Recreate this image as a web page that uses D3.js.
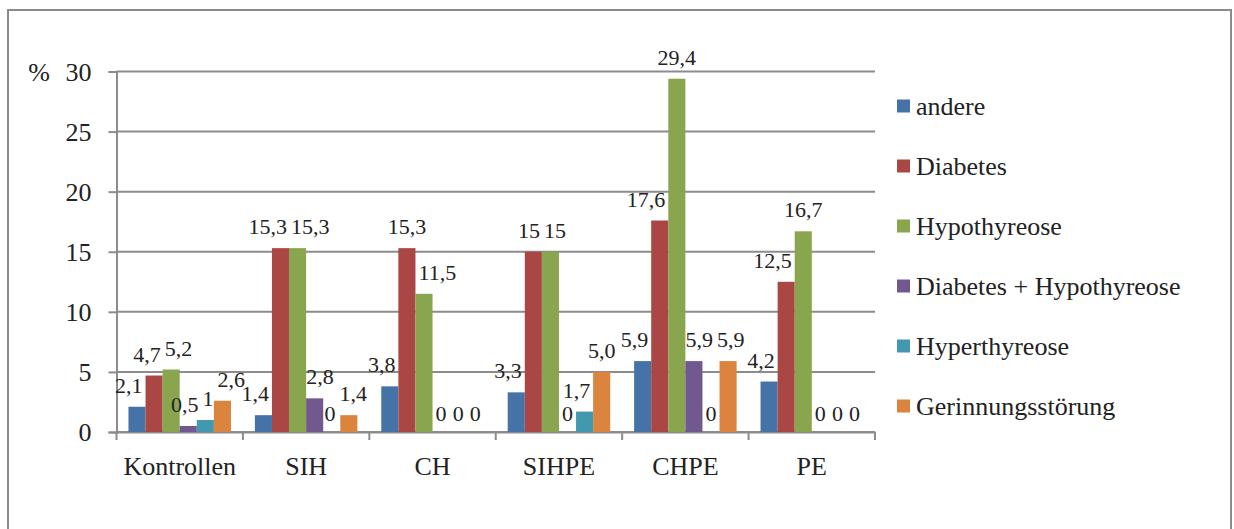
<!DOCTYPE html>
<html>
<head>
<meta charset="utf-8">
<script src="https://cdn.jsdelivr.net/npm/d3@7"></script>
<style>
  html, body { margin: 0; padding: 0; background: #fff; }
  svg { display: block; }
  text { font-family: "Liberation Serif", "Times New Roman", serif; fill: #222; }
</style>
</head>
<body>
<svg id="chart" width="1234" height="529"></svg>
<script>
// Groups along the x axis
const categories = ["Kontrollen", "SIH", "CH", "SIHPE", "CHPE", "PE"];

// Series names (legend order)
const seriesNames = ["andere", "Diabetes", "Hypothyreose", "Diabetes + Hypothyreose", "Hyperthyreose", "Gerinnungsstörung"];

// Percentages per group, written as they are labelled (decimal comma)
const andere        = ["2,1", "1,4", "3,8", "3,3", "5,9", "4,2"];
const diabetes      = ["4,7", "15,3", "15,3", "15", "17,6", "12,5"];
const hypothyreose  = ["5,2", "15,3", "11,5", "15", "29,4", "16,7"];
const diabHypo      = ["0,5", "2,8", "0", "0", "5,9", "0"];
const hyperthyreose = ["1", "0", "0", "1,7", "0", "0"];
const gerinnung     = ["2,6", "1,4", "0", "5,0", "5,9", "0"];

// Y axis ticks
const yTicks = [0, 5, 10, 15, 20, 25, 30];

const seriesLabels = [andere, diabetes, hypothyreose, diabHypo, hyperthyreose, gerinnung];
const colors = ["#4572A7", "#AA4643", "#89A54E", "#71588F", "#4198AF", "#DB843D"];
const toNum = s => +s.replace(",", ".");

const svg = d3.select("#chart");

// Chart area frame
svg.append("rect")
  .attr("x", 8).attr("y", 10)
  .attr("width", 1223).attr("height", 600)
  .attr("fill", "#fff").attr("stroke", "#8c8c8c").attr("stroke-width", 2);

const plotL = 116.5, plotR = 875, plotT = 71.5, plotB = 432;

const x0 = d3.scaleBand().domain(categories).range([plotL, plotR]).paddingInner(0).paddingOuter(0);
const x1 = d3.scaleBand().domain(d3.range(seriesNames.length)).range([0, x0.bandwidth()])
  .paddingInner(0).paddingOuter(0.7);
const y = d3.scaleLinear().domain([0, 30]).range([plotB, plotT]);

const gridColor = "#8c8c8c";

// Horizontal gridlines
svg.append("g").selectAll("line").data(yTicks).join("line")
  .attr("x1", plotL).attr("x2", plotR)
  .attr("y1", d => y(d)).attr("y2", d => y(d))
  .attr("stroke", gridColor).attr("stroke-width", 2);

// Y axis
const yAxis = d3.axisLeft(y).tickValues(yTicks).tickSize(8).tickPadding(17).tickFormat(d => d);
const gy = svg.append("g").attr("transform", `translate(${plotL},0)`).call(yAxis);
gy.attr("font-family", null);
gy.select(".domain").attr("stroke", gridColor).attr("stroke-width", 2);
gy.selectAll(".tick line").attr("stroke", gridColor).attr("stroke-width", 2);
gy.selectAll(".tick text")
  .attr("font-size", 26).attr("font-family", "Liberation Serif").attr("fill", "#222")
  .attr("dy", "0.34em");

// Unit label
svg.append("text").attr("x", 39).attr("y", y(30) + 9)
  .attr("text-anchor", "middle").attr("font-size", 26).text("%");

// X axis
const xAxis = d3.axisBottom(x0).tickSize(0).tickPadding(0);
const gx = svg.append("g").attr("transform", `translate(0,${plotB})`).call(xAxis);
gx.attr("font-family", null);
gx.select(".domain").attr("stroke", gridColor).attr("stroke-width", 2);
gx.selectAll(".tick text")
  .attr("font-size", 26).attr("font-family", "Liberation Serif").attr("fill", "#222")
  .attr("y", 43).attr("dy", 0);
// Category separators below the axis
const bounds = categories.map(c => x0(c)).concat([plotR]);
gx.append("g").selectAll("line").data(bounds).join("line")
  .attr("x1", d => d).attr("x2", d => d).attr("y1", 0).attr("y2", 8)
  .attr("stroke", gridColor).attr("stroke-width", 2);

// Bars
const groups = svg.append("g").selectAll("g").data(categories).join("g")
  .attr("transform", c => `translate(${x0(c)},0)`);

groups.selectAll("rect")
  .data((c, gi) => seriesLabels.map((arr, si) => ({ si, v: toNum(arr[gi]) })))
  .join("rect")
  .attr("x", d => x1(d.si))
  .attr("width", x1.bandwidth())
  .attr("y", d => y(d.v))
  .attr("height", d => plotB - y(d.v))
  .attr("fill", d => colors[d.si]);

// Value labels: placed above each bar, then nudged sideways so they
// clear taller neighbouring bars and each other.
const labelLayer = svg.append("g");
const bw = x1.bandwidth();
const ascent = 16, descent = 6, margin = 3;
categories.forEach((c, gi) => {
  const gx0 = x0(c);
  const items = seriesLabels.map((arr, si) => {
    const v = toNum(arr[gi]);
    const t = labelLayer.append("text")
      .attr("font-size", 22).attr("text-anchor", "middle").text(arr[gi]);
    const w = t.node().getComputedTextLength();
    return { t, si, v, w, cx: gx0 + x1(si) + bw / 2, base: y(v) - (v > 0 ? 14 : 11) };
  });
  // keep clear of taller bars in the same group
  items.forEach(a => {
    items.forEach(b => {
      if (a === b) return;
      const top = y(b.v);
      if (top >= a.base + descent - 2) return;
      const bx0 = gx0 + x1(b.si), bx1 = bx0 + bw;
      if (a.cx + a.w / 2 + margin <= bx0 || a.cx - a.w / 2 - margin >= bx1) return;
      if (b.si > a.si) a.cx = Math.min(a.cx, bx0 - margin - a.w / 2);
      else a.cx = Math.max(a.cx, bx1 + margin + a.w / 2);
    });
  });
  // separate overlapping labels
  for (let k = 0; k < 10; k++) {
    for (let i = 0; i < items.length; i++) {
      for (let j = i + 1; j < items.length; j++) {
        const a = items[i], b = items[j];
        if (Math.abs(a.base - b.base) >= ascent + descent) continue;
        const need = (a.w + b.w) / 2 + 4;
        const gap = b.cx - a.cx;
        if (gap < need) {
          const d = (need - gap) / 2;
          a.cx -= d; b.cx += d;
        }
      }
    }
  }
  items.forEach(a => a.t.attr("x", a.cx).attr("y", a.base));
});

// Legend
const legend = svg.append("g").selectAll("g").data(seriesNames).join("g")
  .attr("transform", (d, i) => `translate(897,${106 + i * 60})`);
legend.append("rect").attr("x", 0).attr("y", -6.5).attr("width", 13).attr("height", 13)
  .attr("fill", (d, i) => colors[i]);
legend.append("text").attr("x", 19).attr("y", 8.5).attr("font-size", 26).text(d => d);
</script>
</body>
</html>
